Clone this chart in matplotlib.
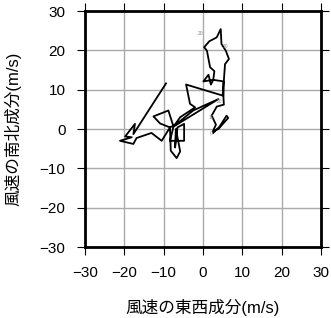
import matplotlib
matplotlib.use('Agg')
import matplotlib.pyplot as plt

plt.rcParams['font.family'] = ['Liberation Sans', 'Noto Sans CJK JP']

# hodograph trace (u = east-west, v = north-south), m/s
u = [2.6, 4.2, 6.0, 6.4, 3.9, 2.5, 3.3, 2.2, 3.5, 5.3, 5.2, 5.3, 5.6, 6.6, 5.8,
     4.7, 4.5, 3.5, 1.6, 0.3, 1.0, 1.8, 2.9, 2.6, 2.0, 1.4, 0.1, 2.6, 5.2, 5.0,
     -4.3, -3.3, -2.0, -5.8, -7.5, 3.9, -2.5, -6.7, -8.4, -8.2, -6.7, -5.8, -6.9,
     -7.1, -6.5, -4.8, -4.8, -8.4, -7.5, -8.8, -12.6, -10.9, -8.4, -10.5, -13.1,
     -16.9, -17.7, -21.1, -18.1, -19.8, -17.3, -17.7, -9.4]
v = [-1.0, 0.6, 3.4, 2.8, 0.0, -0.6, 1.1, 3.4, 5.7, 6.2, 8.1, 12.3, 16.5, 17.8,
     19.9, 21.6, 25.4, 23.3, 22.3, 20.8, 19.9, 15.7, 14.7, 12.5, 11.3, 13.8, 12.1,
     12.5, 12.1, 8.5, 11.3, 6.4, 5.5, 3.0, 0.6, 7.6, 4.7, 1.3, 0.4, -5.5, -7.4,
     -5.7, 0.0, -4.7, 0.4, 1.3, -3.0, -3.0, 0.6, 4.7, 3.2, 1.4, 0.4, -3.0, -1.0,
     -2.3, -3.8, -3.0, -2.1, -1.9, 1.3, -1.3, 11.6]

# small level labels along the trace
label_text = ['0', '10', '20', '20', '10']
label_u = [2.0, 2.0, 4.1, -0.5, 5.8]
label_v = [-1.2, 2.8, 6.9, 24.2, 20.9]

ticks = [-30, -20, -10, 0, 10, 20, 30]

fig = plt.figure(figsize=(3.31, 3.18), dpi=100)
ax = fig.add_axes([85 / 331, 1 - 247 / 318, 236 / 331, 236 / 318])

ax.plot(u, v, color='black', lw=1.3, zorder=3)
for t, x, y in zip(label_text, label_u, label_v):
    ax.text(x, y, t, fontsize=3.5, color='#888888', ha='center', va='center', zorder=4)

ax.set_xlim(-30, 30)
ax.set_ylim(-30, 30)
ax.set_xticks(ticks)
ax.set_yticks(ticks)
ax.grid(True, color='#aaaaaa', lw=1.0)
ax.set_axisbelow(True)
ax.tick_params(direction='out', length=6, width=0.8, top=True, right=True,
               labelsize=11, pad=8)
for s in ax.spines.values():
    s.set_linewidth(2.0)

ax.set_xlabel('風速の東西成分(m/s)', fontsize=12, labelpad=13)
ax.set_ylabel('風速の南北成分(m/s)', fontsize=12, labelpad=13)

fig.savefig('out.png', dpi=100)
